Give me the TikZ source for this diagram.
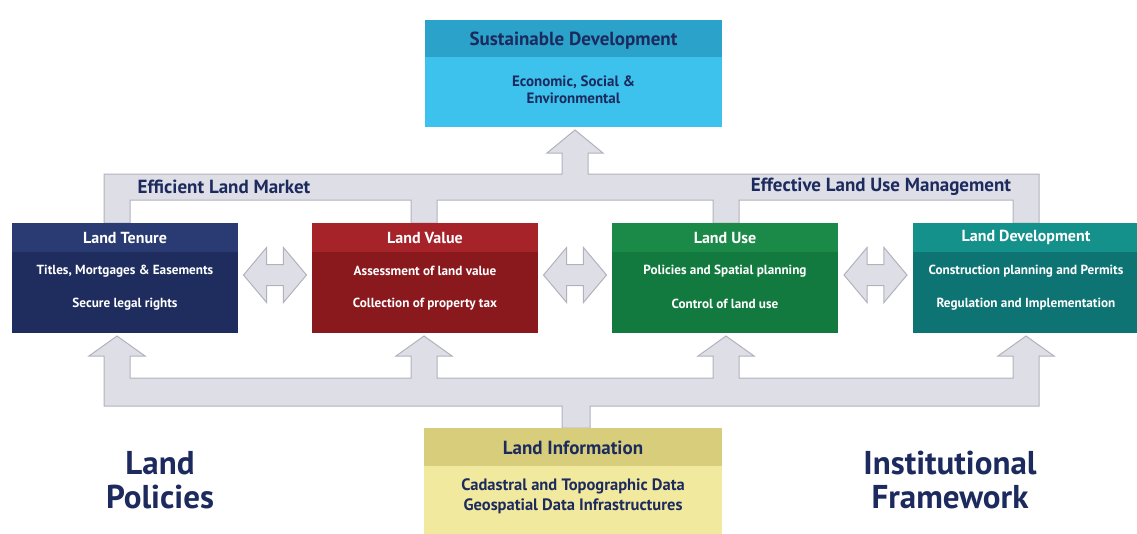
\documentclass[tikz,border=0pt]{standalone}
\usepackage{fontspec}
\setmainfont{PT Sans}
\usetikzlibrary{calc,shapes.arrows}

\definecolor{tenureblue}{HTML}{1F2D5E}
\definecolor{tenurehead}{HTML}{293B72}
\definecolor{valuered}{HTML}{8A191E}
\definecolor{valuehead}{HTML}{A6232A}
\definecolor{usegreen}{HTML}{137A3F}
\definecolor{usehead}{HTML}{1B8A48}
\definecolor{devteal}{HTML}{0E7373}
\definecolor{devhead}{HTML}{15918C}
\definecolor{sustbody}{HTML}{3CC2EC}
\definecolor{susthead}{HTML}{2AA2CA}
\definecolor{infobody}{HTML}{F1E99D}
\definecolor{infohead}{HTML}{D8CD7A}
\definecolor{inkblue}{HTML}{1C2A5E}
\definecolor{arrowgray}{HTML}{DEDEE6}
\definecolor{arrowline}{HTML}{B2B2BE}

\tikzset{
  landbox/.style={rectangle,minimum width=226pt,minimum height=110pt,inner sep=0pt},
  boxtitle/.style={font=\bfseries\fontsize{16}{18}\selectfont,text=white},
  boxtext/.style={font=\bfseries\fontsize{13.2}{15}\selectfont,text=white},
  bandtext/.style={font=\bfseries\fontsize{19}{21}\selectfont,text=inkblue},
  bigtext/.style={font=\bfseries\fontsize{33}{34}\selectfont,text=inkblue,align=center},
  twoway/.style={double arrow,double arrow tip angle=100,double arrow head extend=17pt,
    minimum height=63pt,inner xsep=0pt,inner ysep=10pt,fill=arrowgray,draw=arrowline,line width=1pt},
  band/.style={fill=arrowgray,draw=arrowline,line width=1pt,line join=miter}
}

\begin{document}
\begin{tikzpicture}[x=1pt,y=-1pt]
	\useasboundingbox (0,0) rectangle (1137,533);
	\clip (0,0) rectangle (1137,533);
	\fill[white] (0,0) rectangle (1137,533);

	% top band and arrow to sustainable development
	\draw[band] (104,223) -- (104,174) -- (562,174) -- (562,153) -- (547,153) -- (575,130)
		-- (603,153) -- (588,153) -- (588,174) -- (1039,174) -- (1039,223) -- (1013,223)
		-- (1013,200) -- (739,200) -- (739,223) -- (713,223) -- (713,200) -- (437,200)
		-- (437,223) -- (411,223) -- (411,200) -- (130,200) -- (130,223) -- cycle;

	% bottom band from land information
	\draw[band] (104,406) -- (104,356) -- (89,356) -- (117,336) -- (145,356) -- (130,356)
		-- (130,378) -- (411,378) -- (411,356) -- (396,356) -- (424,336) -- (452,356)
		-- (437,356) -- (437,378) -- (713,378) -- (713,356) -- (698,356) -- (726,336)
		-- (754,356) -- (739,356) -- (739,378) -- (1013,378) -- (1013,356) -- (998,356)
		-- (1026,336) -- (1054,356) -- (1039,356) -- (1039,406) -- (590,406) -- (590,428)
		-- (562,428) -- (562,406) -- cycle;

	\node[bandtext] (market) at (224,187) {Efficient Land Market};
	\node[bandtext] (manage) at (881,187) {Effective Land Use Management};

	% sustainable development
	\node[rectangle,minimum width=297pt,minimum height=107pt,inner sep=0pt,fill=sustbody] (sust) at (573.5,73.5) {};
	\fill[susthead] (sust.north west) rectangle ($(sust.north east)+(0,37)$);
	\node[bandtext] (sustt) at ($(sust.north)+(0,21)$) {Sustainable Development};
	\node[font=\bfseries\fontsize{15}{17}\selectfont,text=inkblue,align=center] (sustb) at ($(sust.north)+(0,70)$) {Economic, Social \&\\Environmental};

	% four land boxes
	\node[landbox,fill=tenureblue] (tenure) at (125,278) {};
	\node[landbox,fill=valuered] (value) at (425,278) {};
	\node[landbox,fill=usegreen] (use) at (725,278) {};
	\node[landbox,fill=devteal] (dev) at (1026,278) {};
	\fill[tenurehead] (tenure.north west) rectangle ($(tenure.north east)+(0,29)$);
	\fill[valuehead] (value.north west) rectangle ($(value.north east)+(0,29)$);
	\fill[usehead] (use.north west) rectangle ($(use.north east)+(0,29)$);
	\fill[devhead] (dev.north west) rectangle ($(dev.north east)+(0,29)$);

	\node[boxtitle] (tenuret) at ($(tenure.north)+(0,15)$) {Land Tenure};
	\node[boxtext] (tenurea) at ($(tenure.north)+(0,48)$) {Titles, Mortgages \& Easements};
	\node[boxtext] (tenureb) at ($(tenure.north)+(0,81)$) {Secure legal rights};
	\node[boxtitle] (valuet) at ($(value.north)+(0,15)$) {Land Value};
	\node[boxtext] (valuea) at ($(value.north)+(0,48)$) {Assessment of land value};
	\node[boxtext] (valueb) at ($(value.north)+(0,81)$) {Collection of property tax};
	\node[boxtitle] (uset) at ($(use.north)+(0,15)$) {Land Use};
	\node[boxtext] (usea) at ($(use.north)+(0,48)$) {Policies and Spatial planning};
	\node[boxtext] (useb) at ($(use.north)+(0,81)$) {Control of land use};
	\node[boxtitle] (devt) at ($(dev.north)+(0,15)$) {Land Development};
	\node[boxtext] (deva) at ($(dev.north)+(0,48)$) {Construction planning and Permits};
	\node[boxtext] (devb) at ($(dev.north)+(0,81)$) {Regulation and Implementation};

	% links between boxes
	\node[twoway] (tv) at ($(tenure.east)!0.5!(value.west)+(0,-3)$) {};
	\node[twoway] (vu) at ($(value.east)!0.5!(use.west)+(0,-3)$) {};
	\node[twoway] (ud) at ($(use.east)!0.5!(dev.west)+(0,-3)$) {};

	% land information
	\node[rectangle,minimum width=298pt,minimum height=110pt,inner sep=0pt,fill=infobody] (info) at (573,483) {};
	\fill[infohead] (info.north west) rectangle ($(info.north east)+(0,38)$);
	\node[bandtext] (infot) at ($(info.north)+(0,20)$) {Land Information};
	\node[font=\bfseries\fontsize{16.5}{20}\selectfont,text=inkblue,align=center] (infob) at ($(info.north)+(0,68)$) {Cadastral and Topographic Data\\Geospatial Data Infrastructures};

	\node[bigtext] (policies) at (160,480) {Land\\Policies};
	\node[bigtext] (framework) at (950,480) {Institutional\\Framework};
\end{tikzpicture}
\end{document}
